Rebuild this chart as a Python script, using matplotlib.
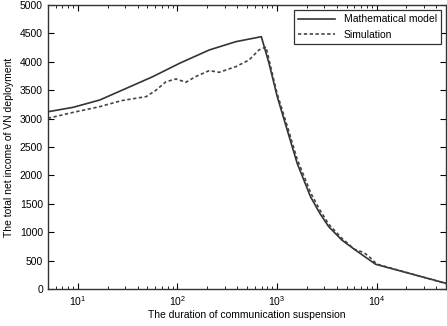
import matplotlib
matplotlib.use("Agg")
import matplotlib.pyplot as plt
import numpy as np

plt.rcParams['font.family'] = ['Liberation Sans', 'DejaVu Sans']
plt.rcParams['mathtext.default'] = 'regular'

# Mathematical model
model_x = [5, 9, 16.6, 30.7, 56.6, 105, 209, 386, 697, 832, 1007, 1268, 1596, 2173,
           2700, 3311, 4500, 6120, 9800, 50000]
model_y = [3120, 3199, 3327, 3533, 3738, 3973, 4208, 4354, 4442, 3974, 3386, 2799,
           2213, 1625, 1330, 1097, 860, 687, 435, 100]

# Simulation
sim_x = [5, 9, 16.6, 27.4, 48.6, 61, 77, 97, 122, 152, 209, 263, 386, 525, 661, 776,
         1000, 1268, 1600, 2200, 2700, 3311, 4500, 6000, 7500, 8800, 10000, 50000]
sim_y = [3005, 3110, 3210, 3316, 3387, 3500, 3650, 3697, 3640, 3738, 3845, 3815, 3914,
         4032, 4210, 4260, 3450, 2870, 2280, 1680, 1390, 1140, 890, 700, 640, 540, 440, 95]

fig = plt.figure(figsize=(4.47, 3.26), dpi=100)
ax = fig.add_axes([0.107, 0.1135, 0.891, 0.8712])

ax.plot(model_x, model_y, color='#333333', lw=1.2, label='Mathematical model')
ax.plot(sim_x, sim_y, color='#444444', lw=1.2, linestyle=(0, (2, 1.5)), label='Simulation')

ax.set_xscale('log')
ax.set_xlim(5, 50000)
ax.set_ylim(0, 5000)
ax.set_yticks(np.arange(0, 5001, 500))

ax.tick_params(which='both', direction='in', top=True, right=True, labelsize=7.5)
ax.tick_params(which='major', length=4)
ax.tick_params(which='minor', length=2)
for s in ax.spines.values():
    s.set_linewidth(1.0)
    s.set_color('#333333')

ax.set_xlabel('The duration of communication suspension', fontsize=7.5, labelpad=2)
ax.set_ylabel('The total net income of VN deployment', fontsize=7.5, labelpad=4)

leg = ax.legend(loc='upper right', fontsize=7.5, fancybox=False, framealpha=1,
                edgecolor='#333333', borderaxespad=0.5, handlelength=3.6)
leg.get_frame().set_linewidth(0.9)

fig.savefig('out.png', dpi=100)
